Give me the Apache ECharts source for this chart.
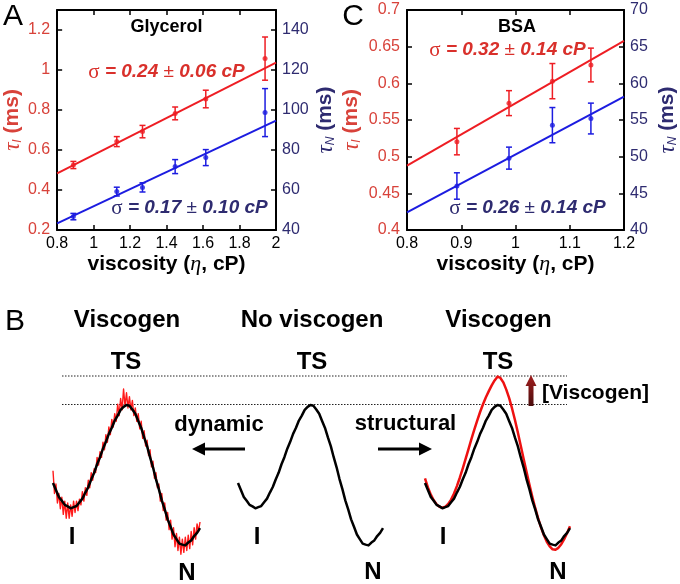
<!DOCTYPE html>
<html><head><meta charset="utf-8">
<script src="https://cdn.jsdelivr.net/npm/echarts@6/dist/echarts.min.js"></script>
<style>html,body{margin:0;padding:0;background:#fff}#c{width:680px;height:584px}</style>
</head><body><div id="c"></div>
<script>
// ---------- Panel A (Glycerol) ----------
const visA = [0.889, 1.127, 1.268, 1.447, 1.615, 1.94];
const tauIA = [0.525, 0.642, 0.692, 0.783, 0.855, 1.057];
const tauIAErr = [0.018, 0.025, 0.031, 0.032, 0.044, 0.108];
const tauNA = [46.7, 59.2, 61.3, 71.7, 76.2, 98.7];
const tauNAErr = [1.6, 2.2, 2.3, 3.5, 4.0, 12.0];
const fitAI = [[0.8, 0.483], [2.0, 1.037]];
const fitAN = [[0.8, 43.3], [2.0, 94.7]];
// ---------- Panel C (BSA) ----------
const visC = [0.892, 0.988, 1.068, 1.139];
const tauIC = [0.5205, 0.573, 0.603, 0.625];
const tauICErr = [0.018, 0.017, 0.024, 0.023];
const tauNC = [46.0, 49.8, 54.3, 55.2];
const tauNCErr = [1.8, 1.5, 2.4, 2.1];
const fitCI = [[0.8, 0.4878], [1.2, 0.658]];
const fitCN = [[0.8, 42.4], [1.2, 58.2]];
// ---------- Panel B (schematic free-energy profiles, reaction coord 0..100) ----------
const profileBlack = [40.5, 36.8, 33.2, 31.2, 29.0, 28.2, 27.2, 27.8, 28.4, 30.4, 32.3, 35.5, 38.4, 42.4, 45.9, 50.4, 54.1, 58.6, 62.2, 66.4, 69.6, 73.4, 76.0, 79.0, 80.6, 81.6, 81.2, 79.2, 77.0, 73.2, 69.5, 64.5, 59.9, 54.1, 48.8, 42.6, 37.3, 31.4, 26.6, 21.4, 17.5, 13.4, 11.0, 8.6, 8.1, 7.7, 9.2, 10.3, 12.6, 14.3, 16.8];
const profileStructural = [43, 38.2, 34.4, 31.4, 29.3, 28, 27.5, 28, 29.5, 31.8, 35, 38.9, 43.3, 48.1, 53.2, 58.4, 63.6, 68.6, 73.4, 77.9, 82, 85.7, 88.9, 91.9, 94.5, 96.5, 95.8, 93.5, 89.8, 85.3, 79.9, 73.8, 67.2, 60.3, 53.3, 46.4, 39.7, 33.3, 27.4, 22, 17.2, 13, 9.6, 7.2, 5.6, 5.4, 6.4, 8.3, 11, 14.2, 17.8];
const profileDynamic = [47,35,40,30,35,27,33,24,31,22, 30,22,29,23,31,25,31,26,32,29, 36,31,38,34,42,38,46,42,48,46, 54,50,57,54,62,58,66,62,70,66, 74,70,77,73,82,76,85,79,90,81, 88,80,86,79,84,76,80,73,77,69, 73,64,68,60,63,55,58,49,52,43, 46,38,40,31,35,26,30,21,25,16, 21,11,17,7,14,5,12,3,11,4, 12,5,13,6,15,8,17,11,19,15, 20];
const stepBlack = 2, stepDynamic = 1;

const FF = '"Liberation Sans", Arial, sans-serif';
const RED_AX = '#d8423a', NAVY = '#2e2b70', RED = '#ee1d23', BLUE = '#1c1ce0', RED_TXT = '#d9302b';

function xAxes(gi, min, max, interval) {
  const common = {gridIndex: gi, type: 'value', min, max, interval, splitLine: {show: false},
    axisLine: {show: true, onZero: false, lineStyle: {color: '#000', width: 2}},
    axisTick: {inside: true, length: 5, lineStyle: {color: '#000', width: 1.5}}};
  return [
    Object.assign({}, common, {position: 'bottom',
      axisLabel: {color: '#000', fontSize: 16, fontFamily: FF, margin: 6},
      name: '{b|viscosity (}{e|η}{b|, cP)}', nameLocation: 'middle', nameGap: 22,
      nameTextStyle: {rich: {b: {fontSize: 21, fontWeight: 'bold', fontFamily: FF, color: '#000'},
        e: {fontSize: 22, fontStyle: 'italic', fontFamily: '"Liberation Serif", serif', color: '#000'}}}}),
    Object.assign({}, common, {position: 'top', axisLabel: {show: false}})
  ];
}
function yAxes(gi, lmin, lmax, lint, rmin, rmax, rint, lgap, rgap) {
  const common = {gridIndex: gi, type: 'value', splitLine: {show: false},
    axisLine: {show: true, onZero: false, lineStyle: {color: '#000', width: 2}},
    axisTick: {inside: true, length: 5, lineStyle: {color: '#000', width: 1.5}}};
  const rich = (c) => ({t: {fontSize: 23, fontStyle: 'italic', fontFamily: '"Liberation Serif", serif', color: c},
    s: {fontSize: 12, fontStyle: 'italic', fontFamily: FF, color: c, padding: [10, 0, 0, 0]},
    m: {fontSize: 21, fontWeight: 'bold', fontFamily: FF, color: c}});
  const whole = (a, b, i) => Math.abs((b - a) / i - Math.round((b - a) / i)) < 1e-9;
  return [
    Object.assign({}, common, {position: 'left', min: lmin, max: lmax, interval: lint,
      axisLabel: {color: RED_AX, fontSize: 16, fontFamily: FF, margin: 7, showMaxLabel: whole(lmin, lmax, lint)},
      name: '{t|τ}{s|I}{m| (ms)}', nameLocation: 'middle', nameRotate: 90, nameGap: lgap,
      nameTextStyle: {rich: rich(RED_AX)}}),
    Object.assign({}, common, {position: 'right', min: rmin, max: rmax, interval: rint,
      axisLabel: {color: NAVY, fontSize: 16, fontFamily: FF, margin: 6, showMaxLabel: whole(rmin, rmax, rint)},
      name: '{t|τ}{s|N}{m| (ms)}', nameLocation: 'middle', nameRotate: 90, nameGap: rgap,
      nameTextStyle: {rich: rich(NAVY)}})
  ];
}
function errBars(xi, yi, xs, ys, es, color) {
  return {type: 'custom', xAxisIndex: xi, yAxisIndex: yi, z: 4,
    data: xs.map((x, i) => [x, ys[i] - es[i], ys[i] + es[i]]),
    encode: {x: 0, y: [1, 2]},
    renderItem: (params, api) => {
      const lo = api.coord([api.value(0), api.value(1)]);
      const hi = api.coord([api.value(0), api.value(2)]);
      const w = 3, st = {stroke: color, lineWidth: 1.5};
      return {type: 'group', children: [
        {type: 'line', shape: {x1: lo[0], y1: lo[1], x2: hi[0], y2: hi[1]}, style: st},
        {type: 'line', shape: {x1: lo[0] - w, y1: lo[1], x2: lo[0] + w, y2: lo[1]}, style: st},
        {type: 'line', shape: {x1: hi[0] - w, y1: hi[1], x2: hi[0] + w, y2: hi[1]}, style: st}
      ]};
    }};
}
function pts(xi, yi, xs, ys, color) {
  return {type: 'scatter', xAxisIndex: xi, yAxisIndex: yi, z: 5, symbolSize: 5,
    itemStyle: {color}, data: xs.map((x, i) => [x, ys[i]])};
}
function fit(xi, yi, d, color) {
  return {type: 'line', xAxisIndex: xi, yAxisIndex: yi, z: 3, data: d, showSymbol: false,
    lineStyle: {color, width: 2}, silent: true};
}
function prof(gi, arr, step, color, width, z) {
  return {type: 'line', xAxisIndex: gi, yAxisIndex: gi, z, data: arr.map((v, i) => [i * step, v]),
    showSymbol: false, smooth: false, lineStyle: {color, width, join: 'round'}, silent: true};
}
const hidden = (gi) => ({gridIndex: gi, type: 'value', min: 0, max: 100, show: false});

const xA = xAxes(0, 0.8, 2.0, 0.2), xC = xAxes(1, 0.8, 1.2, 0.1);
const yA = yAxes(0, 0.2, 1.3, 0.2, 40, 150, 20, 32, 38);
const yC = yAxes(1, 0.4, 0.7, 0.05, 40, 70, 5, 44, 32);

const sigma = (x, y, val, color) => ({type: 'text', x, y, z: 10,
  style: {text: '{g|σ} = ' + val[0] + ' {p|±} ' + val[1] + ' cP', fill: color, align: 'center', verticalAlign: 'middle',
    font: 'italic bold 19px ' + FF,
    rich: {g: {font: '21px "Liberation Serif", serif', fill: color}, p: {font: '19px ' + FF, fill: color}}}});
const txt = (x, y, t, size, extra) => Object.assign({type: 'text', x, y, z: 10,
  style: {text: t, font: 'bold ' + size + 'px ' + FF, fill: '#000', align: 'center', verticalAlign: 'middle'}}, extra || {});

const graphic = [
  {type: 'text', x: 13, y: 17, style: {text: 'A', font: '30px ' + FF, fill: '#000', align: 'center', verticalAlign: 'middle'}},
  {type: 'text', x: 353, y: 17, style: {text: 'C', font: '30px ' + FF, fill: '#000', align: 'center', verticalAlign: 'middle'}},
  {type: 'text', x: 15, y: 322, style: {text: 'B', font: '30px ' + FF, fill: '#000', align: 'center', verticalAlign: 'middle'}},
  txt(166.5, 27, 'Glycerol', 18), txt(517, 27, 'BSA', 18),
  sigma(166.5, 72, ['0.24', '0.06'], RED_TXT), sigma(189.5, 208, ['0.17', '0.10'], NAVY),
  sigma(507.5, 50, ['0.32', '0.14'], RED_TXT), sigma(527.5, 208, ['0.26', '0.14'], NAVY),
  txt(127, 320, 'Viscogen', 24), txt(312, 320, 'No viscogen', 24), txt(498.5, 320, 'Viscogen', 24),
  txt(126, 362, 'TS', 24), txt(312, 362, 'TS', 24), txt(498, 362, 'TS', 24),
  {type: 'line', shape: {x1: 62, y1: 376, x2: 567, y2: 376}, style: {stroke: '#222', lineWidth: 1, lineDash: [1.5, 1.5]}},
  {type: 'line', shape: {x1: 62, y1: 404.5, x2: 567, y2: 404.5}, style: {stroke: '#222', lineWidth: 1, lineDash: [1.5, 1.5]}},
  txt(219, 425, 'dynamic', 22), txt(405.5, 424, 'structural', 22),
  {type: 'line', shape: {x1: 245, y1: 449, x2: 202, y2: 449}, style: {stroke: '#000', lineWidth: 3}},
  {type: 'polygon', shape: {points: [[192, 449], [205, 442.5], [205, 455.5]]}, style: {fill: '#000'}},
  {type: 'line', shape: {x1: 378, y1: 449, x2: 422, y2: 449}, style: {stroke: '#000', lineWidth: 3}},
  {type: 'polygon', shape: {points: [[432, 449], [419, 442.5], [419, 455.5]]}, style: {fill: '#000'}},
  {type: 'polygon', shape: {points: [[528.5, 406], [528.5, 386], [525.5, 386], [531, 375], [536.5, 386], [533.5, 386], [533.5, 406]]},
    style: {fill: {type: 'linear', x: 0, y: 0, x2: 0, y2: 1, colorStops: [{offset: 0, color: '#a31f1f'}, {offset: 1, color: '#4a0d0d'}]}}},
  {type: 'text', x: 542, y: 393, style: {text: '[Viscogen]', font: 'bold 21px ' + FF, fill: '#000', align: 'left', verticalAlign: 'middle'}},
  txt(72, 537, 'I', 24), txt(187, 573, 'N', 24),
  txt(257, 537, 'I', 24), txt(373, 572, 'N', 24),
  txt(443, 537, 'I', 24), txt(558, 572, 'N', 24)
];

const chart = echarts.init(document.getElementById('c'), null, {renderer: 'canvas'});
chart.setOption({
  animation: false,
  backgroundColor: '#fff',
  grid: [
    {left: 57, top: 10, width: 219, height: 220},
    {left: 407, top: 10, width: 220, height: 220},
    {left: 53, top: 370, width: 147, height: 190},
    {left: 238, top: 370, width: 145, height: 190},
    {left: 425, top: 370, width: 145, height: 190}
  ],
  xAxis: [xA[0], xA[1], xC[0], xC[1], hidden(2), hidden(3), hidden(4)],
  yAxis: [yA[0], yA[1], yC[0], yC[1], hidden(2), hidden(3), hidden(4)],
  series: [
    fit(0, 0, fitAI, RED), fit(0, 1, fitAN, BLUE),
    errBars(0, 0, visA, tauIA, tauIAErr, RED), errBars(0, 1, visA, tauNA, tauNAErr, BLUE),
    pts(0, 0, visA, tauIA, RED), pts(0, 1, visA, tauNA, BLUE),
    fit(2, 2, fitCI, RED), fit(2, 3, fitCN, BLUE),
    errBars(2, 2, visC, tauIC, tauICErr, RED), errBars(2, 3, visC, tauNC, tauNCErr, BLUE),
    pts(2, 2, visC, tauIC, RED), pts(2, 3, visC, tauNC, BLUE),
    prof(4, profileDynamic, stepDynamic, '#ff1a1a', 1.4, 2),
    prof(4, profileBlack, stepBlack, '#000', 2.5, 3),
    prof(5, profileBlack, stepBlack, '#000', 2.5, 3),
    prof(6, profileStructural, stepBlack, '#ee1111', 2.5, 2),
    prof(6, profileBlack, stepBlack, '#000', 2.5, 3)
  ],
  graphic
});
</script></body></html>
